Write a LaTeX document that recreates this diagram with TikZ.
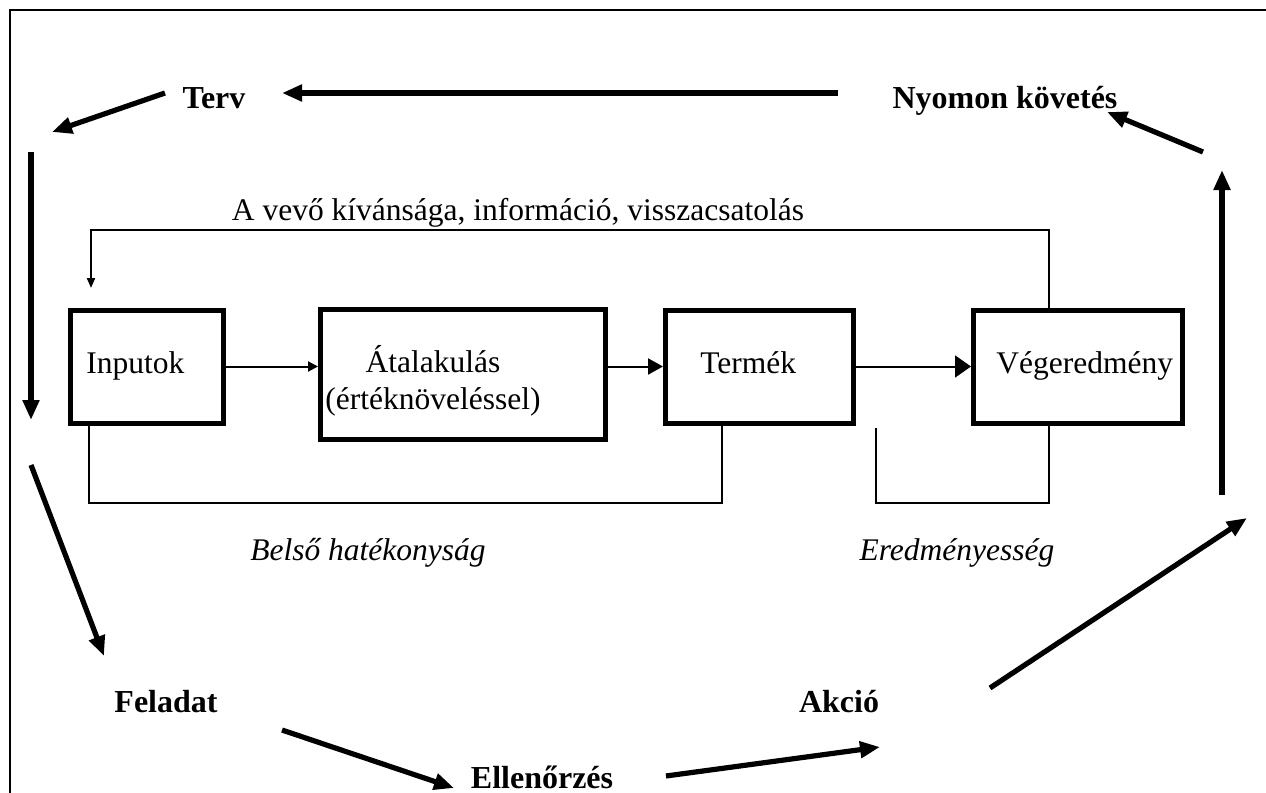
\documentclass[tikz,border=0pt]{standalone}
\usepackage{fontspec}
\setmainfont{Liberation Serif}
\usetikzlibrary{arrows.meta}
\begin{document}
\begin{tikzpicture}[x=0.5pt,y=-0.5pt,
  every node/.style={font=\fontsize{15.75}{18.5}\selectfont, inner sep=0pt},
  stage/.style={font=\fontsize{16}{19}\selectfont\bfseries},
  note/.style={font=\fontsize{15.75}{19}\selectfont\itshape},
  block/.style={draw, line width=2.5pt, minimum height=56.5pt},
  cycle/.style={line width=2.6pt, -{Triangle[length=10pt,width=8pt]}},
  flow/.style={line width=1pt, -{Triangle[length=5pt,width=5pt]}},
  thin/.style={line width=1pt}]
\useasboundingbox (0,0) rectangle (1266,793);
% frame
\draw[line width=1.3pt] (10,793) -- (10,10) -- (1266,10);

% process blocks
\node[block, minimum width=76.5pt] (inp) at (147,366.5) {};
\node[block, minimum width=142.5pt, minimum height=65pt] (atal) at (463,374.5) {};
\node[block, minimum width=94pt] (ter) at (759.5,366.5) {};
\node[block, minimum width=104.5pt] (veg) at (1078,366.5) {};
\node[anchor=base west] (tinp) at (86,373) {Inputok};
\node[align=center] (tatal) at (433,381) {Átalakulás\\(értéknöveléssel)};
\node[anchor=base west] (tter) at (700,373) {Termék};
\node[anchor=base west] (tveg) at (996,373) {Végeredmény};

\draw[flow] (inp.east) -- (inp.east -| atal.west);
\draw[line width=1pt, -{Triangle[length=7.5pt,width=8pt]}] (ter.west -| atal.east) -- (ter.west);
\draw[line width=1pt, -{Triangle[length=8pt,width=11pt]}] (ter.east) -- (veg.west);

% feedback loop
\coordinate (fbr) at (1049,230);
\coordinate (fbl) at (91,230);
\coordinate (fbtip) at (91,288);
\draw[line width=1pt, -{Triangle[length=5pt,width=4pt]}] (veg.north -| fbr) -- (fbr) -- (fbl) -- (fbtip);
\node[anchor=base] (tfb) at (518,220) {A vevő kívánsága, információ, visszacsatolás};

% efficiency brackets
\coordinate (b1l) at (89,503);
\coordinate (b1r) at (722,503);
\draw[thin] (inp.south -| b1l) -- (b1l) -- (b1r) -- (ter.south -| b1r);
\coordinate (b2s) at (876,428);
\coordinate (b2l) at (876,503);
\coordinate (b2r) at (1049,503);
\draw[thin] (b2s) -- (b2l) -- (b2r) -- (veg.south -| b2r);
\node[note, anchor=base] (tbelso) at (368,560) {Belső hatékonyság};
\node[note, anchor=base] (tered) at (957,560) {Eredményesség};

% management cycle
\node[stage, anchor=base] (terv) at (214,108) {Terv};
\node[stage, anchor=base] (nyom) at (1005,108) {Nyomon követés};
\node[stage, anchor=base] (fel) at (166,712) {Feladat};
\node[stage, anchor=base] (ell) at (542,788) {Ellenőrzés};
\node[stage, anchor=base] (akc) at (839,712) {Akció};

\coordinate (a1s) at (838,93);   \coordinate (a1e) at (282,93);
\coordinate (a2s) at (165,93);   \coordinate (a2e) at (52,132);
\coordinate (a3s) at (31,152);   \coordinate (a3e) at (31,420);
\coordinate (a4s) at (31,465);   \coordinate (a4e) at (104,656);
\coordinate (a5s) at (282,730);  \coordinate (a5e) at (454,788);
\coordinate (a6s) at (666,776);  \coordinate (a6e) at (880,747);
\coordinate (a7s) at (990,688);  \coordinate (a7e) at (1247,518);
\coordinate (a8s) at (1222,495); \coordinate (a8e) at (1222,170);
\coordinate (a9s) at (1203,152); \coordinate (a9e) at (1107,112);
\foreach \s/\e in {a1s/a1e,a2s/a2e,a3s/a3e,a4s/a4e,a5s/a5e,a6s/a6e,a7s/a7e,a8s/a8e,a9s/a9e}
  \draw[cycle] (\s) -- (\e);
\end{tikzpicture}
\end{document}
